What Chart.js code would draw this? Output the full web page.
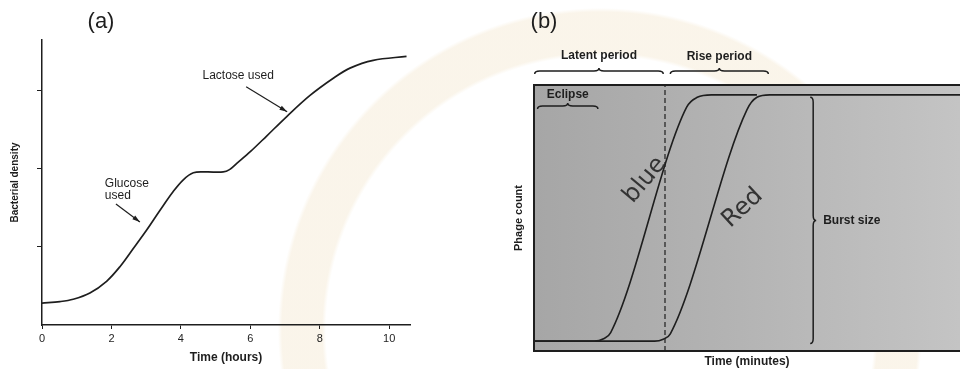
<!DOCTYPE html>
<html>
<head>
<meta charset="utf-8">
<script src="https://cdn.jsdelivr.net/npm/chart.js@4.4.1/dist/chart.umd.min.js"></script>
<style>
  html, body { margin: 0; padding: 0; }
  body {
    width: 960px; height: 369px; overflow: hidden; position: relative;
    background: radial-gradient(circle at 600px 330px, rgba(255,255,255,0) 0 274px, rgba(233,208,160,0.22) 278px 318px, rgba(255,255,255,0) 322px), #fff;
  }
  canvas { position: absolute; top: 0; }
  #chartA { left: 0; }
  #chartB { left: 480px; }
</style>
</head>
<body>
<canvas id="chartA" width="480" height="369"></canvas>
<canvas id="chartB" width="480" height="369"></canvas>
<script>
// (a) diauxic growth: glucose first, then lactose
const hours = [0, 0.52, 0.9, 1.38, 1.86, 2.25, 2.63, 3.02, 3.4, 3.78, 4.07, 4.36, 4.74, 5.22, 5.4, 5.61, 6.0, 6.47, 7.05, 7.72, 8.39, 8.87, 9.54, 10.5];
const density = [0.28, 0.3, 0.33, 0.41, 0.56, 0.75, 0.98, 1.22, 1.47, 1.71, 1.86, 1.95, 1.96, 1.96, 1.99, 2.07, 2.22, 2.42, 2.67, 2.94, 3.16, 3.29, 3.39, 3.44];
const hourTicks = [0, 2, 4, 6, 8, 10];
const densityTicks = [1, 2, 3];

// (b) one-step growth, arbitrary units (no tick labels in the figure)
const blueMinutes = [0, 8.5, 9.8, 10.8, 21.5, 23, 25, 31.4];
const bluePhage = [0, 0, 1, 3.5, 95, 99, 100, 100];
const redMinutes = [0, 17, 18.2, 19.2, 30, 31.4, 33.2, 60];
const redPhage = [0, 0, 0.8, 3, 94, 99, 100, 100];
const latentEnd = 18.45;
const latentPeriod = [0.1, 18.2];
const risePeriod = [19.2, 33];
const eclipsePeriod = [0.5, 9];
const burstAt = 38.9;
const burstRange = [-1, 99];

const ink = '#1e1e1e';
const sans = '"Liberation Sans", Arial, sans-serif';

function arrow(ctx, x1, y1, x2, y2) {
  ctx.beginPath();
  ctx.moveTo(x1, y1);
  ctx.lineTo(x2, y2);
  ctx.stroke();
  const a = Math.atan2(y2 - y1, x2 - x1);
  ctx.beginPath();
  ctx.moveTo(x2, y2);
  ctx.lineTo(x2 - 8 * Math.cos(a - 0.3), y2 - 8 * Math.sin(a - 0.3));
  ctx.lineTo(x2 - 8 * Math.cos(a + 0.3), y2 - 8 * Math.sin(a + 0.3));
  ctx.closePath();
  ctx.fill();
}

// horizontal brace, cusp pointing up
function braceUp(ctx, x1, x2, y, d) {
  const xm = (x1 + x2) / 2, r = 5, h = y - d / 2;
  ctx.beginPath();
  ctx.moveTo(x1, y);
  ctx.quadraticCurveTo(x1, h, x1 + r, h);
  ctx.lineTo(xm - r, h);
  ctx.quadraticCurveTo(xm, h, xm, y - d);
  ctx.quadraticCurveTo(xm, h, xm + r, h);
  ctx.lineTo(x2 - r, h);
  ctx.quadraticCurveTo(x2, h, x2, y);
  ctx.stroke();
}

// vertical brace, cusp pointing right
function braceRight(ctx, x, y1, y2, d) {
  const ym = (y1 + y2) / 2, r = 5, v = x + d / 2;
  ctx.beginPath();
  ctx.moveTo(x, y1);
  ctx.quadraticCurveTo(v, y1, v, y1 + r);
  ctx.lineTo(v, ym - r);
  ctx.quadraticCurveTo(v, ym, x + d, ym);
  ctx.quadraticCurveTo(v, ym, v, ym + r);
  ctx.lineTo(v, y2 - r);
  ctx.quadraticCurveTo(v, y2, x, y2);
  ctx.stroke();
}

const notesA = [
  { lines: ['Lactose used'], at: [5.65, 3.19], align: 'center', from: [5.88, 3.05], to: [7.06, 2.73] },
  { lines: ['Glucose', 'used'], at: [1.81, 1.81], align: 'left', from: [2.13, 1.55], to: [2.82, 1.32] }
];

const annotA = {
  id: 'annotA',
  afterDatasetsDraw(chart) {
    const { ctx, scales: { x, y } } = chart;
    ctx.save();
    ctx.fillStyle = ink;
    ctx.strokeStyle = ink;
    ctx.lineWidth = 1.2;
    ctx.font = '22px ' + sans;
    ctx.textAlign = 'center';
    ctx.textBaseline = 'middle';
    ctx.fillText('(a)', 101, 22);
    ctx.font = '12px ' + sans;
    notesA.forEach(n => {
      ctx.textAlign = n.align;
      n.lines.forEach((t, i) => {
        ctx.fillText(t, x.getPixelForValue(n.at[0]), y.getPixelForValue(n.at[1]) + i * 12);
      });
      arrow(ctx, x.getPixelForValue(n.from[0]), y.getPixelForValue(n.from[1]),
        x.getPixelForValue(n.to[0]), y.getPixelForValue(n.to[1]));
    });
    ctx.restore();
  }
};

new Chart(document.getElementById('chartA'), {
  type: 'line',
  data: {
    datasets: [{
      data: hours.map((h, i) => ({ x: h, y: density[i] })),
      borderColor: ink,
      borderWidth: 1.7,
      pointRadius: 0,
      tension: 0.35,
      fill: false
    }]
  },
  options: {
    responsive: false,
    animation: false,
    layout: { padding: { top: 40, right: 70, left: 0, bottom: 0 } },
    plugins: { legend: { display: false }, tooltip: { enabled: false } },
    scales: {
      x: {
        type: 'linear', min: 0, max: 10.6,
        afterBuildTicks: s => { s.ticks = hourTicks.map(v => ({ value: v })); },
        afterFit: s => { s.height = 44; },
        grid: { drawOnChartArea: false, tickLength: 4, color: ink },
        border: { color: ink, width: 1.5 },
        ticks: { color: ink, font: { family: sans, size: 11 }, padding: 3, maxRotation: 0 },
        title: { display: true, text: 'Time (hours)', color: ink, font: { family: sans, size: 12, weight: 'bold' }, padding: { top: 0, bottom: 4 } }
      },
      y: {
        min: 0, max: 3.65,
        afterBuildTicks: s => { s.ticks = densityTicks.map(v => ({ value: v })); },
        afterFit: s => { s.width = 42; },
        grid: { drawOnChartArea: false, tickLength: 5, color: ink },
        border: { color: ink, width: 1.5 },
        ticks: { callback: () => '' },
        title: { display: true, text: 'Bacterial density', color: ink, font: { family: sans, size: 10, weight: 'bold' }, padding: { top: 9, bottom: 0 } }
      }
    }
  },
  plugins: [annotA]
});

const shadeB = {
  id: 'shadeB',
  beforeDraw(chart) {
    const { ctx, chartArea: a } = chart;
    const g = ctx.createLinearGradient(a.left, 0, a.right, 0);
    g.addColorStop(0, '#a6a6a6');
    g.addColorStop(0.45, '#b3b3b3');
    g.addColorStop(1, '#c4c4c4');
    ctx.save();
    ctx.fillStyle = g;
    ctx.fillRect(a.left, a.top, a.right - a.left, a.bottom - a.top);
    ctx.restore();
  }
};

const annotB = {
  id: 'annotB',
  afterDraw(chart) {
    const { ctx, chartArea: a, scales: { x, y } } = chart;
    ctx.save();
    ctx.strokeStyle = ink;
    ctx.fillStyle = ink;
    // top frame line
    ctx.lineWidth = 2;
    ctx.beginPath();
    ctx.moveTo(a.left, a.top);
    ctx.lineTo(a.right, a.top);
    ctx.stroke();

    ctx.font = '22px ' + sans;
    ctx.textAlign = 'center';
    ctx.textBaseline = 'middle';
    ctx.fillText('(b)', 64, 22);

    ctx.lineWidth = 1.5;
    ctx.font = 'bold 12px ' + sans;
    const px = v => x.getPixelForValue(v);
    braceUp(ctx, px(latentPeriod[0]), px(latentPeriod[1]), a.top - 11, 6);
    ctx.fillText('Latent period', (px(latentPeriod[0]) + px(latentPeriod[1])) / 2, a.top - 29);
    braceUp(ctx, px(risePeriod[0]), px(risePeriod[1]), a.top - 11, 6);
    ctx.fillText('Rise period', (px(risePeriod[0]) + px(risePeriod[1])) / 2, a.top - 28);
    braceUp(ctx, px(eclipsePeriod[0]), px(eclipsePeriod[1]), a.top + 24, 6);
    ctx.fillText('Eclipse', (px(eclipsePeriod[0]) + px(eclipsePeriod[1])) / 2, a.top + 10);

    const yTop = y.getPixelForValue(burstRange[1]), yBot = y.getPixelForValue(burstRange[0]);
    braceRight(ctx, px(burstAt), yTop, yBot, 6);
    ctx.textAlign = 'left';
    ctx.fillText('Burst size', px(burstAt) + 13, (yTop + yBot) / 2);

    // handwritten notes on the two curves
    ctx.fillStyle = '#333';
    ctx.textAlign = 'center';
    ctx.font = '24px "DejaVu Sans", sans-serif';
    ctx.translate(px(15.6), y.getPixelForValue(65.4));
    ctx.rotate(-50 * Math.PI / 180);
    ctx.fillText('blue', 0, 0);
    ctx.setTransform(1, 0, 0, 1, 0, 0);
    ctx.translate(px(29.4), y.getPixelForValue(54));
    ctx.rotate(-43 * Math.PI / 180);
    ctx.fillText('Red', 0, 0);
    ctx.restore();
  }
};

new Chart(document.getElementById('chartB'), {
  type: 'line',
  data: {
    datasets: [
      { data: blueMinutes.map((m, i) => ({ x: m, y: bluePhage[i] })), borderColor: ink, borderWidth: 1.6, pointRadius: 0, cubicInterpolationMode: 'monotone', fill: false },
      { data: redMinutes.map((m, i) => ({ x: m, y: redPhage[i] })), borderColor: ink, borderWidth: 1.6, pointRadius: 0, cubicInterpolationMode: 'monotone', fill: false },
      { data: [{ x: latentEnd, y: -4 }, { x: latentEnd, y: 104 }], borderColor: ink, borderWidth: 1.2, borderDash: [5, 3], pointRadius: 0, fill: false }
    ]
  },
  options: {
    responsive: false,
    animation: false,
    layout: { padding: { top: 85, right: 0, left: 0, bottom: 0 } },
    plugins: { legend: { display: false }, tooltip: { enabled: false } },
    scales: {
      x: {
        type: 'linear', min: 0, max: 60,
        afterFit: s => { s.height = 18; },
        grid: { display: false },
        ticks: { display: false },
        border: { color: ink, width: 2 },
        title: { display: true, text: 'Time (minutes)', color: ink, font: { family: sans, size: 12, weight: 'bold' }, padding: { top: 0, bottom: 0 } }
      },
      y: {
        min: -4, max: 104,
        afterFit: s => { s.width = 54; },
        grid: { display: false },
        ticks: { display: false },
        border: { color: ink, width: 2 },
        title: { display: true, text: 'Phage count', color: ink, font: { family: sans, size: 11, weight: 'bold' }, padding: { top: 32, bottom: 0 } }
      }
    }
  },
  plugins: [shadeB, annotB]
});
</script>
</body>
</html>
